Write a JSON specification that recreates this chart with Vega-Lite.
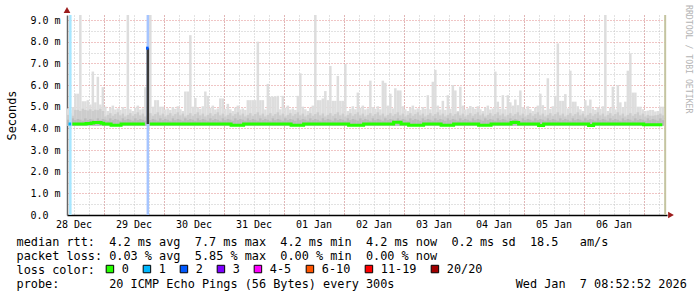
{
  "$schema": "https://vega.github.io/schema/vega-lite/v6.json",
  "width": 600,
  "height": 200,
  "autosize": {"type": "none"},
  "padding": {"left": 67, "top": 15, "right": 30, "bottom": 82},
  "background": "white",
  "config": {
    "view": {"stroke": null}
  },
  "title": {"text": "RRDTOOL / TOBI OETIKER", "orient": "right", "anchor": "start", "frame": "group", "font": "DejaVu Sans Mono", "fontSize": 8.2, "fontWeight": "normal", "color": "#b4b4b4", "offset": -2, "dx": -10},
  "datasets": {
    "smoke": [
      {"t":"2025-12-28T09:00Z","top":4.92,"md":4.62,"dk":4.4,"med":4.2},
      {"t":"2025-12-28T10:00Z","top":4.85,"md":4.7,"dk":4.35},
      {"t":"2025-12-28T11:00Z","top":4.98,"md":4.58,"dk":4.46,"med":4.2},
      {"t":"2025-12-28T12:00Z","top":5.6,"md":4.85,"dk":4.38,"med":4.2},
      {"t":"2025-12-28T13:00Z","top":5.6,"md":4.85,"dk":4.43,"med":4.2},
      {"t":"2025-12-28T14:00Z","top":9.3,"md":4.8,"dk":4.4,"med":4.2},
      {"t":"2025-12-28T15:00Z","top":5.25,"md":4.9,"dk":4.35,"med":4.2},
      {"t":"2025-12-28T16:00Z","top":5.25,"md":4.85,"dk":4.46,"med":4.2},
      {"t":"2025-12-28T17:00Z","top":5.3,"md":4.82,"dk":4.38,"med":4.22},
      {"t":"2025-12-28T18:00Z","top":5.1,"md":4.88,"dk":4.43,"med":4.22},
      {"t":"2025-12-28T19:00Z","top":6.62,"md":4.8,"dk":4.4,"med":4.25},
      {"t":"2025-12-28T20:00Z","top":5.2,"md":4.86,"dk":4.35,"med":4.27},
      {"t":"2025-12-28T21:00Z","top":6.38,"md":4.84,"dk":4.46,"med":4.27},
      {"t":"2025-12-28T22:00Z","top":5.1,"md":4.9,"dk":4.38,"med":4.27},
      {"t":"2025-12-28T23:00Z","top":5.9,"md":4.8,"dk":4.43,"med":4.24},
      {"t":"2025-12-29T00:00Z","top":5.0,"md":4.55,"dk":4.4,"med":4.2},
      {"t":"2025-12-29T01:00Z","top":4.8,"md":4.62,"dk":4.35,"med":4.2},
      {"t":"2025-12-29T02:00Z","top":4.95,"md":4.7,"dk":4.46,"med":4.2},
      {"t":"2025-12-29T03:00Z","top":5.05,"md":4.58,"dk":4.38,"med":4.14},
      {"t":"2025-12-29T04:00Z","top":4.87,"md":4.66,"dk":4.43,"med":4.14},
      {"t":"2025-12-29T05:00Z","top":4.92,"md":4.74,"dk":4.4,"med":4.14},
      {"t":"2025-12-29T06:00Z","top":4.85,"md":4.6,"dk":4.35,"med":4.14},
      {"t":"2025-12-29T07:00Z","top":4.98,"md":4.68,"dk":4.46,"med":4.2},
      {"t":"2025-12-29T08:00Z","top":4.9,"md":4.55,"dk":4.38,"med":4.2},
      {"t":"2025-12-29T09:00Z","top":9.3,"md":4.62,"dk":4.43,"med":4.2},
      {"t":"2025-12-29T10:00Z","top":4.88,"md":4.7,"dk":4.4,"med":4.2},
      {"t":"2025-12-29T11:00Z","top":4.8,"md":4.58,"dk":4.35,"med":4.2},
      {"t":"2025-12-29T12:00Z","top":4.95,"md":4.66,"dk":4.46,"med":4.2},
      {"t":"2025-12-29T13:00Z","top":5.05,"md":4.74,"dk":4.38,"med":4.2},
      {"t":"2025-12-29T14:00Z","top":4.87,"md":4.6,"dk":4.43,"med":4.2},
      {"t":"2025-12-29T15:00Z","top":4.92,"md":4.68,"dk":4.4,"med":4.2},
      {"t":"2025-12-29T16:00Z","top":5.9,"md":4.55,"dk":4.35,"med":4.2},
      {"t":"2025-12-29T17:00Z","top":4.98,"md":4.62,"dk":4.46},
      {"t":"2025-12-29T18:00Z","top":9.3,"md":4.7,"dk":4.38,"med":4.2},
      {"t":"2025-12-29T19:00Z","top":5.0,"md":4.58,"dk":4.43,"med":4.2},
      {"t":"2025-12-29T20:00Z","top":5.3,"md":4.66,"dk":4.4,"med":4.2},
      {"t":"2025-12-29T21:00Z","top":5.3,"md":4.74,"dk":4.35,"med":4.2},
      {"t":"2025-12-29T22:00Z","top":5.0,"md":4.6,"dk":4.46,"med":4.2},
      {"t":"2025-12-29T23:00Z","top":5.0,"md":4.68,"dk":4.38,"med":4.2},
      {"t":"2025-12-30T00:00Z","top":4.87,"md":4.55,"dk":4.43,"med":4.2},
      {"t":"2025-12-30T01:00Z","top":4.92,"md":4.62,"dk":4.4,"med":4.2},
      {"t":"2025-12-30T02:00Z","top":4.85,"md":4.7,"dk":4.35,"med":4.2},
      {"t":"2025-12-30T03:00Z","top":4.98,"md":4.58,"dk":4.46,"med":4.2},
      {"t":"2025-12-30T04:00Z","top":4.9,"md":4.66,"dk":4.38,"med":4.2},
      {"t":"2025-12-30T05:00Z","top":5.02,"md":4.74,"dk":4.43,"med":4.2},
      {"t":"2025-12-30T06:00Z","top":4.88,"md":4.6,"dk":4.4,"med":4.2},
      {"t":"2025-12-30T07:00Z","top":4.8,"md":4.68,"dk":4.35,"med":4.2},
      {"t":"2025-12-30T08:00Z","top":5.7,"md":4.55,"dk":4.46,"med":4.2},
      {"t":"2025-12-30T09:00Z","top":5.7,"md":4.62,"dk":4.38,"med":4.2},
      {"t":"2025-12-30T10:00Z","top":8.3,"md":4.7,"dk":4.43,"med":4.2},
      {"t":"2025-12-30T11:00Z","top":5.0,"md":4.58,"dk":4.4,"med":4.2},
      {"t":"2025-12-30T12:00Z","top":5.4,"md":4.66,"dk":4.35,"med":4.2},
      {"t":"2025-12-30T13:00Z","top":4.98,"md":4.74,"dk":4.46,"med":4.2},
      {"t":"2025-12-30T14:00Z","top":4.9,"md":4.6,"dk":4.38,"med":4.2},
      {"t":"2025-12-30T15:00Z","top":5.02,"md":4.68,"dk":4.43,"med":4.2},
      {"t":"2025-12-30T16:00Z","top":5.7,"md":4.55,"dk":4.4,"med":4.2},
      {"t":"2025-12-30T17:00Z","top":5.5,"md":4.62,"dk":4.35,"med":4.2},
      {"t":"2025-12-30T18:00Z","top":4.95,"md":4.7,"dk":4.46,"med":4.2},
      {"t":"2025-12-30T19:00Z","top":5.05,"md":4.58,"dk":4.38,"med":4.2},
      {"t":"2025-12-30T20:00Z","top":4.87,"md":4.66,"dk":4.43,"med":4.2},
      {"t":"2025-12-30T21:00Z","top":4.92,"md":4.74,"dk":4.4,"med":4.2},
      {"t":"2025-12-30T22:00Z","top":5.38,"md":4.6,"dk":4.35,"med":4.2},
      {"t":"2025-12-30T23:00Z","top":5.38,"md":4.68,"dk":4.46,"med":4.2},
      {"t":"2025-12-31T00:00Z","top":4.9,"md":4.55,"dk":4.38,"med":4.2},
      {"t":"2025-12-31T01:00Z","top":5.13,"md":4.62,"dk":4.43,"med":4.2},
      {"t":"2025-12-31T02:00Z","top":4.88,"md":4.7,"dk":4.4,"med":4.2},
      {"t":"2025-12-31T03:00Z","top":4.8,"md":4.58,"dk":4.35,"med":4.14},
      {"t":"2025-12-31T04:00Z","top":4.95,"md":4.66,"dk":4.46,"med":4.14},
      {"t":"2025-12-31T05:00Z","top":5.05,"md":4.74,"dk":4.38,"med":4.14},
      {"t":"2025-12-31T06:00Z","top":4.87,"md":4.6,"dk":4.43,"med":4.14},
      {"t":"2025-12-31T07:00Z","top":4.92,"md":4.68,"dk":4.4,"med":4.14},
      {"t":"2025-12-31T08:00Z","top":4.85,"md":4.55,"dk":4.35,"med":4.2},
      {"t":"2025-12-31T09:00Z","top":5.3,"md":4.62,"dk":4.46,"med":4.2},
      {"t":"2025-12-31T10:00Z","top":5.3,"md":4.7,"dk":4.38,"med":4.2},
      {"t":"2025-12-31T11:00Z","top":5.3,"md":4.58,"dk":4.43,"med":4.2},
      {"t":"2025-12-31T12:00Z","top":5.3,"md":4.66,"dk":4.4,"med":4.2},
      {"t":"2025-12-31T13:00Z","top":8.0,"md":4.74,"dk":4.35,"med":4.2},
      {"t":"2025-12-31T14:00Z","top":5.3,"md":4.6,"dk":4.46,"med":4.2},
      {"t":"2025-12-31T15:00Z","top":5.3,"md":4.68,"dk":4.38,"med":4.2},
      {"t":"2025-12-31T16:00Z","top":4.87,"md":4.55,"dk":4.43,"med":4.2},
      {"t":"2025-12-31T17:00Z","top":6.05,"md":4.62,"dk":4.4,"med":4.2},
      {"t":"2025-12-31T18:00Z","top":5.46,"md":4.7,"dk":4.35,"med":4.2},
      {"t":"2025-12-31T19:00Z","top":5.46,"md":4.58,"dk":4.46,"med":4.2},
      {"t":"2025-12-31T20:00Z","top":5.46,"md":4.66,"dk":4.38,"med":4.2},
      {"t":"2025-12-31T21:00Z","top":5.5,"md":4.74,"dk":4.43,"med":4.2},
      {"t":"2025-12-31T22:00Z","top":4.88,"md":4.6,"dk":4.4,"med":4.2},
      {"t":"2025-12-31T23:00Z","top":5.5,"md":4.68,"dk":4.35,"med":4.2},
      {"t":"2026-01-01T00:00Z","top":4.95,"md":4.55,"dk":4.46,"med":4.2},
      {"t":"2026-01-01T01:00Z","top":5.05,"md":4.62,"dk":4.38,"med":4.2},
      {"t":"2026-01-01T02:00Z","top":4.87,"md":4.7,"dk":4.43,"med":4.2},
      {"t":"2026-01-01T03:00Z","top":4.92,"md":4.58,"dk":4.4,"med":4.14},
      {"t":"2026-01-01T04:00Z","top":4.85,"md":4.66,"dk":4.35,"med":4.14},
      {"t":"2026-01-01T05:00Z","top":5.5,"md":4.74,"dk":4.46,"med":4.14},
      {"t":"2026-01-01T06:00Z","top":6.54,"md":4.6,"dk":4.38,"med":4.14},
      {"t":"2026-01-01T07:00Z","top":5.0,"md":4.68,"dk":4.43,"med":4.14},
      {"t":"2026-01-01T08:00Z","top":4.88,"md":4.55,"dk":4.4,"med":4.2},
      {"t":"2026-01-01T09:00Z","top":4.8,"md":4.62,"dk":4.35,"med":4.2},
      {"t":"2026-01-01T10:00Z","top":4.95,"md":4.7,"dk":4.46,"med":4.2},
      {"t":"2026-01-01T11:00Z","top":5.05,"md":4.58,"dk":4.38,"med":4.2},
      {"t":"2026-01-01T12:00Z","top":9.3,"md":4.66,"dk":4.43,"med":4.2},
      {"t":"2026-01-01T13:00Z","top":5.3,"md":4.74,"dk":4.4,"med":4.2},
      {"t":"2026-01-01T14:00Z","top":5.3,"md":4.6,"dk":4.35,"med":4.2},
      {"t":"2026-01-01T15:00Z","top":5.38,"md":4.68,"dk":4.46,"med":4.2},
      {"t":"2026-01-01T16:00Z","top":5.72,"md":4.55,"dk":4.38,"med":4.2},
      {"t":"2026-01-01T17:00Z","top":5.3,"md":4.62,"dk":4.43,"med":4.2},
      {"t":"2026-01-01T18:00Z","top":6.88,"md":4.7,"dk":4.4,"med":4.2},
      {"t":"2026-01-01T19:00Z","top":5.27,"md":4.58,"dk":4.35,"med":4.2},
      {"t":"2026-01-01T20:00Z","top":5.27,"md":4.66,"dk":4.46,"med":4.2},
      {"t":"2026-01-01T21:00Z","top":6.42,"md":4.74,"dk":4.38,"med":4.2},
      {"t":"2026-01-01T22:00Z","top":5.27,"md":4.6,"dk":4.43,"med":4.2},
      {"t":"2026-01-01T23:00Z","top":5.27,"md":4.68,"dk":4.4,"med":4.2},
      {"t":"2026-01-02T00:00Z","top":6.97,"md":4.55,"dk":4.35,"med":4.2},
      {"t":"2026-01-02T01:00Z","top":4.8,"md":4.62,"dk":4.46,"med":4.2},
      {"t":"2026-01-02T02:00Z","top":4.9,"md":4.7,"dk":4.38,"med":4.14},
      {"t":"2026-01-02T03:00Z","top":5.02,"md":4.58,"dk":4.43,"med":4.14},
      {"t":"2026-01-02T04:00Z","top":4.88,"md":4.66,"dk":4.4,"med":4.14},
      {"t":"2026-01-02T05:00Z","top":5.65,"md":4.74,"dk":4.35,"med":4.14},
      {"t":"2026-01-02T06:00Z","top":4.95,"md":4.6,"dk":4.46,"med":4.14},
      {"t":"2026-01-02T07:00Z","top":5.05,"md":4.68,"dk":4.38,"med":4.14},
      {"t":"2026-01-02T08:00Z","top":4.87,"md":4.55,"dk":4.43,"med":4.2},
      {"t":"2026-01-02T09:00Z","top":4.92,"md":4.62,"dk":4.4,"med":4.2},
      {"t":"2026-01-02T10:00Z","top":6.2,"md":4.7,"dk":4.35,"med":4.2},
      {"t":"2026-01-02T11:00Z","top":4.98,"md":4.58,"dk":4.46,"med":4.2},
      {"t":"2026-01-02T12:00Z","top":4.9,"md":4.66,"dk":4.38,"med":4.2},
      {"t":"2026-01-02T13:00Z","top":5.02,"md":4.74,"dk":4.43,"med":4.2},
      {"t":"2026-01-02T14:00Z","top":4.88,"md":4.6,"dk":4.4,"med":4.2},
      {"t":"2026-01-02T15:00Z","top":6.2,"md":4.68,"dk":4.35,"med":4.2},
      {"t":"2026-01-02T16:00Z","top":6.1,"md":4.55,"dk":4.46,"med":4.2},
      {"t":"2026-01-02T17:00Z","top":5.05,"md":4.62,"dk":4.38,"med":4.2},
      {"t":"2026-01-02T18:00Z","top":5.6,"md":4.7,"dk":4.43,"med":4.2},
      {"t":"2026-01-02T19:00Z","top":4.92,"md":4.58,"dk":4.4,"med":4.2},
      {"t":"2026-01-02T20:00Z","top":5.85,"md":4.66,"dk":4.35,"med":4.28},
      {"t":"2026-01-02T21:00Z","top":5.75,"md":4.74,"dk":4.46,"med":4.28},
      {"t":"2026-01-02T22:00Z","top":5.75,"md":4.6,"dk":4.38,"med":4.28},
      {"t":"2026-01-02T23:00Z","top":5.02,"md":4.68,"dk":4.43,"med":4.2},
      {"t":"2026-01-03T00:00Z","top":4.88,"md":4.55,"dk":4.4,"med":4.2},
      {"t":"2026-01-03T01:00Z","top":4.8,"md":4.62,"dk":4.35,"med":4.2},
      {"t":"2026-01-03T02:00Z","top":4.95,"md":4.7,"dk":4.46,"med":4.14},
      {"t":"2026-01-03T03:00Z","top":5.05,"md":4.58,"dk":4.38,"med":4.14},
      {"t":"2026-01-03T04:00Z","top":4.87,"md":4.66,"dk":4.43,"med":4.14},
      {"t":"2026-01-03T05:00Z","top":4.92,"md":4.74,"dk":4.4,"med":4.14},
      {"t":"2026-01-03T06:00Z","top":4.85,"md":4.6,"dk":4.35,"med":4.14},
      {"t":"2026-01-03T07:00Z","top":4.98,"md":4.68,"dk":4.46,"med":4.14},
      {"t":"2026-01-03T08:00Z","top":4.9,"md":4.55,"dk":4.38,"med":4.2},
      {"t":"2026-01-03T09:00Z","top":5.53,"md":4.62,"dk":4.43,"med":4.2},
      {"t":"2026-01-03T10:00Z","top":4.88,"md":4.7,"dk":4.4,"med":4.2},
      {"t":"2026-01-03T11:00Z","top":6.15,"md":4.58,"dk":4.35,"med":4.2},
      {"t":"2026-01-03T12:00Z","top":6.7,"md":4.66,"dk":4.46,"med":4.2},
      {"t":"2026-01-03T13:00Z","top":5.05,"md":4.74,"dk":4.38,"med":4.2},
      {"t":"2026-01-03T14:00Z","top":4.87,"md":4.6,"dk":4.43,"med":4.2},
      {"t":"2026-01-03T15:00Z","top":5.27,"md":4.68,"dk":4.4,"med":4.14},
      {"t":"2026-01-03T16:00Z","top":4.85,"md":4.55,"dk":4.35,"med":4.14},
      {"t":"2026-01-03T17:00Z","top":5.53,"md":4.62,"dk":4.46,"med":4.14},
      {"t":"2026-01-03T18:00Z","top":4.9,"md":4.7,"dk":4.38,"med":4.14},
      {"t":"2026-01-03T19:00Z","top":6.0,"md":4.58,"dk":4.43,"med":4.14},
      {"t":"2026-01-03T20:00Z","top":5.75,"md":4.66,"dk":4.4,"med":4.2},
      {"t":"2026-01-03T21:00Z","top":4.8,"md":4.74,"dk":4.35,"med":4.2},
      {"t":"2026-01-03T22:00Z","top":5.92,"md":4.6,"dk":4.46,"med":4.2},
      {"t":"2026-01-03T23:00Z","top":5.05,"md":4.68,"dk":4.38,"med":4.2},
      {"t":"2026-01-04T00:00Z","top":4.87,"md":4.55,"dk":4.43,"med":4.2},
      {"t":"2026-01-04T01:00Z","top":4.92,"md":4.62,"dk":4.4,"med":4.2},
      {"t":"2026-01-04T02:00Z","top":5.03,"md":4.7,"dk":4.35,"med":4.2},
      {"t":"2026-01-04T03:00Z","top":4.98,"md":4.58,"dk":4.46,"med":4.2},
      {"t":"2026-01-04T04:00Z","top":4.9,"md":4.66,"dk":4.38,"med":4.2},
      {"t":"2026-01-04T05:00Z","top":5.02,"md":4.74,"dk":4.43,"med":4.2},
      {"t":"2026-01-04T06:00Z","top":4.88,"md":4.6,"dk":4.4,"med":4.14},
      {"t":"2026-01-04T07:00Z","top":4.8,"md":4.68,"dk":4.35,"med":4.14},
      {"t":"2026-01-04T08:00Z","top":4.95,"md":4.55,"dk":4.46,"med":4.14},
      {"t":"2026-01-04T09:00Z","top":5.05,"md":4.62,"dk":4.38,"med":4.14},
      {"t":"2026-01-04T10:00Z","top":4.87,"md":4.7,"dk":4.43,"med":4.14},
      {"t":"2026-01-04T11:00Z","top":4.92,"md":4.58,"dk":4.4,"med":4.2},
      {"t":"2026-01-04T12:00Z","top":6.62,"md":4.66,"dk":4.35,"med":4.2},
      {"t":"2026-01-04T13:00Z","top":5.23,"md":4.74,"dk":4.46,"med":4.2},
      {"t":"2026-01-04T14:00Z","top":4.9,"md":4.6,"dk":4.38,"med":4.2},
      {"t":"2026-01-04T15:00Z","top":5.53,"md":4.68,"dk":4.43,"med":4.2},
      {"t":"2026-01-04T16:00Z","top":4.88,"md":4.55,"dk":4.4,"med":4.2},
      {"t":"2026-01-04T17:00Z","top":5.53,"md":4.62,"dk":4.35,"med":4.2},
      {"t":"2026-01-04T18:00Z","top":5.2,"md":4.7,"dk":4.46,"med":4.2},
      {"t":"2026-01-04T19:00Z","top":5.05,"md":4.58,"dk":4.38,"med":4.27},
      {"t":"2026-01-04T20:00Z","top":5.33,"md":4.66,"dk":4.43,"med":4.28},
      {"t":"2026-01-04T21:00Z","top":5.07,"md":4.74,"dk":4.4,"med":4.27},
      {"t":"2026-01-04T22:00Z","top":5.75,"md":4.6,"dk":4.35,"med":4.2},
      {"t":"2026-01-04T23:00Z","top":4.98,"md":4.68,"dk":4.46,"med":4.2},
      {"t":"2026-01-05T00:00Z","top":4.9,"md":4.55,"dk":4.38,"med":4.2},
      {"t":"2026-01-05T01:00Z","top":5.02,"md":4.62,"dk":4.43,"med":4.2},
      {"t":"2026-01-05T02:00Z","top":4.88,"md":4.7,"dk":4.4,"med":4.2},
      {"t":"2026-01-05T03:00Z","top":4.8,"md":4.58,"dk":4.35,"med":4.2},
      {"t":"2026-01-05T04:00Z","top":4.95,"md":4.66,"dk":4.46,"med":4.2},
      {"t":"2026-01-05T05:00Z","top":5.05,"md":4.74,"dk":4.38,"med":4.2},
      {"t":"2026-01-05T06:00Z","top":5.6,"md":4.6,"dk":4.43,"med":4.13},
      {"t":"2026-01-05T07:00Z","top":5.07,"md":4.68,"dk":4.4,"med":4.13},
      {"t":"2026-01-05T08:00Z","top":4.85,"md":4.55,"dk":4.35,"med":4.2},
      {"t":"2026-01-05T09:00Z","top":6.31,"md":4.62,"dk":4.46,"med":4.2},
      {"t":"2026-01-05T10:00Z","top":4.9,"md":4.7,"dk":4.38,"med":4.2},
      {"t":"2026-01-05T11:00Z","top":5.02,"md":4.58,"dk":4.43,"med":4.2},
      {"t":"2026-01-05T12:00Z","top":5.5,"md":4.66,"dk":4.4,"med":4.2},
      {"t":"2026-01-05T13:00Z","top":7.92,"md":4.74,"dk":4.35,"med":4.2},
      {"t":"2026-01-05T14:00Z","top":5.27,"md":4.6,"dk":4.46,"med":4.2},
      {"t":"2026-01-05T15:00Z","top":5.27,"md":4.68,"dk":4.38,"med":4.2},
      {"t":"2026-01-05T16:00Z","top":5.58,"md":4.55,"dk":4.43,"med":4.2},
      {"t":"2026-01-05T17:00Z","top":4.92,"md":4.62,"dk":4.4,"med":4.2},
      {"t":"2026-01-05T18:00Z","top":6.66,"md":4.7,"dk":4.35,"med":4.2},
      {"t":"2026-01-05T19:00Z","top":5.23,"md":4.58,"dk":4.46,"med":4.2},
      {"t":"2026-01-05T20:00Z","top":5.23,"md":4.66,"dk":4.38,"med":4.2},
      {"t":"2026-01-05T21:00Z","top":5.02,"md":4.74,"dk":4.43,"med":4.2},
      {"t":"2026-01-05T22:00Z","top":4.88,"md":4.6,"dk":4.4,"med":4.2},
      {"t":"2026-01-05T23:00Z","top":4.8,"md":4.68,"dk":4.35,"med":4.2},
      {"t":"2026-01-06T00:00Z","top":5.3,"md":4.55,"dk":4.46,"med":4.2},
      {"t":"2026-01-06T01:00Z","top":5.05,"md":4.62,"dk":4.38,"med":4.2},
      {"t":"2026-01-06T02:00Z","top":5.33,"md":4.7,"dk":4.43,"med":4.13},
      {"t":"2026-01-06T03:00Z","top":4.92,"md":4.58,"dk":4.4,"med":4.13},
      {"t":"2026-01-06T04:00Z","top":4.85,"md":4.66,"dk":4.35,"med":4.2},
      {"t":"2026-01-06T05:00Z","top":4.98,"md":4.74,"dk":4.46,"med":4.2},
      {"t":"2026-01-06T06:00Z","top":4.9,"md":4.6,"dk":4.38,"med":4.2},
      {"t":"2026-01-06T07:00Z","top":5.02,"md":4.68,"dk":4.43,"med":4.2},
      {"t":"2026-01-06T08:00Z","top":9.3,"md":4.55,"dk":4.4,"med":4.2},
      {"t":"2026-01-06T09:00Z","top":4.8,"md":4.62,"dk":4.35,"med":4.2},
      {"t":"2026-01-06T10:00Z","top":4.95,"md":4.7,"dk":4.46,"med":4.2},
      {"t":"2026-01-06T11:00Z","top":5.92,"md":4.58,"dk":4.38,"med":4.2},
      {"t":"2026-01-06T12:00Z","top":4.87,"md":4.66,"dk":4.43,"med":4.2},
      {"t":"2026-01-06T13:00Z","top":6.0,"md":4.74,"dk":4.4,"med":4.2},
      {"t":"2026-01-06T14:00Z","top":5.2,"md":4.6,"dk":4.35,"med":4.2},
      {"t":"2026-01-06T15:00Z","top":4.98,"md":4.68,"dk":4.46,"med":4.2},
      {"t":"2026-01-06T16:00Z","top":5.23,"md":4.55,"dk":4.38,"med":4.2},
      {"t":"2026-01-06T17:00Z","top":6.66,"md":4.62,"dk":4.43,"med":4.2},
      {"t":"2026-01-06T18:00Z","top":7.46,"md":4.7,"dk":4.4,"med":4.2},
      {"t":"2026-01-06T19:00Z","top":5.65,"md":4.58,"dk":4.35,"med":4.2},
      {"t":"2026-01-06T20:00Z","top":5.65,"md":4.66,"dk":4.46,"med":4.2},
      {"t":"2026-01-06T21:00Z","top":5.0,"md":4.74,"dk":4.38,"med":4.2},
      {"t":"2026-01-06T22:00Z","top":5.0,"md":4.6,"dk":4.43,"med":4.2},
      {"t":"2026-01-06T23:00Z","top":4.88,"md":4.68,"dk":4.4,"med":4.2},
      {"t":"2026-01-07T00:00Z","top":4.8,"md":4.55,"dk":4.35,"med":4.16},
      {"t":"2026-01-07T01:00Z","top":4.82,"md":4.62,"dk":4.46,"med":4.16},
      {"t":"2026-01-07T02:00Z","top":4.85,"md":4.58,"dk":4.38,"med":4.16},
      {"t":"2026-01-07T03:00Z","top":4.85,"md":4.58,"dk":4.43,"med":4.16},
      {"t":"2026-01-07T04:00Z","top":4.78,"md":4.6,"dk":4.4,"med":4.16},
      {"t":"2026-01-07T05:00Z","top":4.8,"md":4.62,"dk":4.35,"med":4.16},
      {"t":"2026-01-07T06:00Z","top":5.0,"md":4.68,"dk":4.46,"med":4.16},
      {"t":"2026-01-07T07:00Z","top":5.0,"md":4.6,"dk":4.38,"med":4.16}
    ],
    "loss": [
      {"t":"2025-12-28T10:00Z","loss":"1","med":4.2},
      {"t":"2025-12-29T17:00Z","loss":"2","med":7.7,"lo":4.2}
    ]
  },
  "resolve": {"axis": {"x": "independent", "y": "independent"}},
  "layer": [
    {
      "data": {"name": "smoke"},
      "mark": {"type": "bar", "color": "#dddddd", "clip": true, "binSpacing": 0},
      "encoding": {
        "x": {"timeUnit": "utcyearmonthdatehours", "field": "t", "type": "temporal",
              "scale": {"domain": [{"year":2025,"month":12,"date":28,"hours":9,"minutes":22,"utc":true},{"year":2026,"month":1,"date":7,"hours":9,"minutes":22,"utc":true}]},
              "axis": {"orient": "bottom", "grid": true, "gridColor": "#c4c4c4", "gridDash": [1,2], "gridWidth": 1, "labels": false, "ticks": false, "domain": false, "title": null, "tickCount": 40}},
        "y": {"field": "top", "type": "quantitative",
              "scale": {"domain": [0, 9.2308], "nice": false, "zero": true},
              "axis": {"orient": "left", "grid": true, "gridColor": "#c4c4c4", "gridDash": [1,2], "gridWidth": 1, "labels": false, "ticks": false, "domain": false, "title": null, "values": [0.5,1.5,2.5,3.5,4.5,5.5,6.5,7.5,8.5]}},
        "y2": {"datum": 4.12}
      }
    },
    {
      "data": {"name": "smoke"},
      "mark": {"type": "bar", "color": "#cccccc", "clip": true, "binSpacing": 0},
      "encoding": {
        "x": {"timeUnit": "utcyearmonthdatehours", "field": "t", "type": "temporal",
              "axis": {"orient": "bottom", "grid": true, "gridColor": "#e08a8a", "gridDash": [1,2], "gridWidth": 1, "ticks": false, "domain": true, "domainColor": "#000000", "domainWidth": 1.5,
                       "tickCount": 10,
                       "labelExpr": "utcFormat(datum.value - 43200000, '%d %b')", "labelOffset": -30, "labelPadding": 4, "labelFlush": false, "labelOverlap": false, "labelFontSize": 10, "labelFont": "DejaVu Sans Mono", "labelColor": "#000000",
                       "title": ["median rtt:\u00a0\u00a04.2 ms avg\u00a0\u00a07.7 ms max\u00a0\u00a04.2 ms min\u00a0\u00a04.2 ms now\u00a0\u00a00.2 ms sd\u00a0\u00a018.5\u00a0\u00a0\u00a0am/s", "packet loss:\u00a00.03 % avg\u00a0\u00a05.85 % max\u00a0\u00a00.00 % min\u00a0\u00a00.00 % now", "loss color:", "probe:\u00a0\u00a0\u00a0\u00a0\u00a0\u00a0\u00a020 ICMP Echo Pings (56 Bytes) every 300s\u00a0\u00a0\u00a0\u00a0\u00a0\u00a0\u00a0\u00a0\u00a0\u00a0\u00a0\u00a0\u00a0\u00a0\u00a0\u00a0\u00a0Wed Jan\u00a0\u00a07 08:52:52 2026"],
                       "titleFont": "DejaVu Sans Mono", "titleFontSize": 11.85, "titleFontWeight": "normal", "titleColor": "#000000", "titleAnchor": "start", "titleAlign": "left", "titleBaseline": "alphabetic", "titleX": -51, "titleY": 30, "titleLineHeight": 14}},
        "y": {"field": "md", "type": "quantitative",
              "axis": {"orient": "left", "grid": true, "gridColor": "#e08a8a", "gridDash": [1,2], "gridWidth": 1, "ticks": false, "domain": true, "domainColor": "#666666", "domainWidth": 1.5,
                       "values": [0,1,2,3,4,5,6,7,8,9],
                       "labelExpr": "datum.value == 0 ? '0.0' : format(datum.value, '.1f') + ' m'", "labelAlign": "left", "labelBaseline": "middle", "labelPadding": 37, "labelOverlap": false, "labelFontSize": 10, "labelFont": "DejaVu Sans Mono", "labelColor": "#000000",
                       "title": "Seconds", "titleFont": "DejaVu Sans Mono", "titleFontSize": 11.85, "titleFontWeight": "normal", "titleColor": "#000000", "titlePadding": 13}},
        "y2": {"datum": 4.12}
      }
    },
    {
      "data": {"name": "smoke"},
      "mark": {"type": "bar", "color": "#bbbbbb", "clip": true, "binSpacing": 0},
      "encoding": {
        "x": {"timeUnit": "utcyearmonthdatehours", "field": "t", "type": "temporal", "axis": null},
        "y": {"field": "dk", "type": "quantitative", "axis": null},
        "y2": {"datum": 4.12}
      }
    },
    {
      "data": {"name": "loss"},
      "mark": {"type": "bar", "color": "#ffffff", "clip": true, "binSpacing": 0},
      "encoding": {
        "x": {"timeUnit": "utcyearmonthdatehours", "field": "t", "type": "temporal", "axis": null},
        "y": {"datum": 0, "type": "quantitative", "axis": null},
        "y2": {"datum": 9.2308}
      }
    },
    {
      "data": {"name": "loss"},
      "mark": {"type": "bar", "opacity": 0.35, "clip": true, "binSpacing": 0},
      "encoding": {
        "x": {"timeUnit": "utcyearmonthdatehours", "field": "t", "type": "temporal", "axis": null},
        "y": {"datum": 0, "type": "quantitative", "axis": null},
        "y2": {"datum": 9.2308},
        "fill": {"field": "loss", "type": "nominal",
                 "scale": {"domain": ["1","2"], "range": ["#00b8ff","#0059ff"]},
                 "legend": null}
      }
    },
    {
      "data": {"name": "loss"},
      "mark": {"type": "bar", "color": "#3a3a3a", "clip": true, "binSpacing": 0},
      "encoding": {
        "x": {"timeUnit": "utcyearmonthdatehours", "field": "t", "type": "temporal", "axis": null},
        "y": {"field": "lo", "type": "quantitative", "axis": null},
        "y2": {"field": "med"}
      }
    },
    {
      "data": {"name": "smoke"},
      "mark": {"type": "line", "color": "#26ff00", "strokeWidth": 3, "interpolate": "step", "clip": true},
      "encoding": {
        "x": {"timeUnit": "utcyearmonthdatehours", "field": "t", "type": "temporal", "bandPosition": 0.5, "axis": null},
        "y": {"field": "med", "type": "quantitative", "axis": null}
      }
    },
    {
      "data": {"name": "loss"},
      "mark": {"type": "tick", "orient": "horizontal", "thickness": 3, "size": 2.6, "clip": true, "opacity": 1, "filled": true},
      "encoding": {
        "x": {"timeUnit": "utcyearmonthdatehours", "field": "t", "type": "temporal", "bandPosition": 0.5, "axis": null},
        "y": {"field": "med", "type": "quantitative", "axis": null},
        "color": {"field": "loss", "type": "nominal",
                  "scale": {"domain": ["0","1","2","3","4-5","6-10","11-19","20/20"], "range": ["#26ff00","#00b8ff","#0059ff","#7e00ff","#ff00ff","#ff5500","#ff0000","#a10000"]},
                  "legend": {"title": null, "orient": "none", "legendX": 37, "legendY": 248, "direction": "horizontal", "symbolType": "square", "symbolSize": 56, "symbolStrokeColor": "#000000", "symbolStrokeWidth": 1, "symbolOpacity": 1, "labelFont": "DejaVu Sans Mono", "labelFontSize": 11.85, "labelColor": "#000000", "labelOffset": 6, "columnPadding": 12, "labelLimit": 0}}
      }
    },
    {
      "data": {"values": [{}]},
      "mark": {"type": "rule", "color": "#c4c4a0", "strokeWidth": 2},
      "encoding": {
        "x": {"datum": {"year":2026,"month":1,"date":7,"hours":8,"minutes":38,"utc":true}, "type": "temporal", "axis": null}
      }
    },
    {
      "data": {"values": [{}]},
      "mark": {"type": "point", "shape": "triangle-up", "filled": true, "size": 45, "color": "#9c1c1c", "opacity": 1, "yOffset": -5, "clip": false},
      "encoding": {
        "x": {"datum": {"year":2025,"month":12,"date":28,"hours":9,"minutes":22,"utc":true}, "type": "temporal", "axis": null},
        "y": {"datum": 9.2308, "type": "quantitative", "axis": null}
      }
    },
    {
      "data": {"values": [{}]},
      "mark": {"type": "point", "shape": "triangle-right", "filled": true, "size": 45, "color": "#9c1c1c", "opacity": 1, "xOffset": 4, "clip": false},
      "encoding": {
        "x": {"datum": {"year":2026,"month":1,"date":7,"hours":9,"minutes":22,"utc":true}, "type": "temporal", "axis": null},
        "y": {"datum": 0, "type": "quantitative", "axis": null}
      }
    }
  ]
}
